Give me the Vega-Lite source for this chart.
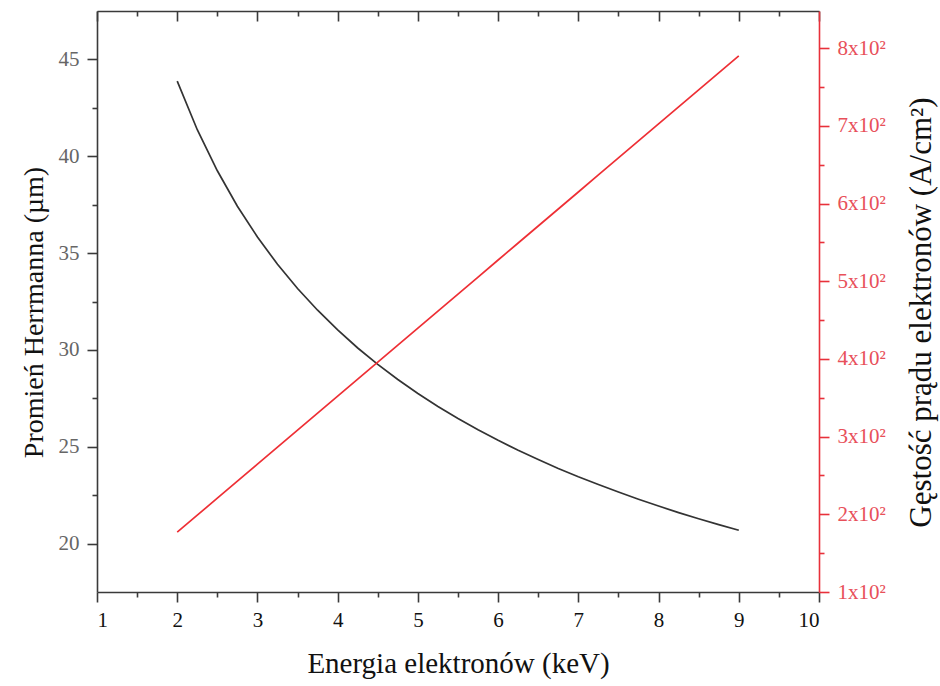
{
  "$schema": "https://vega.github.io/schema/vega-lite/v6.json",
  "width": 722,
  "height": 581,
  "autosize": {"type": "none"},
  "padding": {"left": 97, "top": 11, "right": 121, "bottom": 94},
  "background": "white",
  "view": {"stroke": null},
  "config": {
    "axis": {"grid": false, "labelFont": "Liberation Serif", "titleFont": "Liberation Serif", "labelFontSize": 21, "titleFontSize": 28, "titleFontWeight": "normal", "domainColor": "#3a3a3a", "tickColor": "#3a3a3a", "domainWidth": 1.6, "tickWidth": 1.6}
  },
  "data": {"values": [
    {"E": 2, "R": 43.88, "J": 177.0},
    {"E": 2.25, "R": 41.37, "J": 198.9},
    {"E": 2.5, "R": 39.25, "J": 220.8},
    {"E": 2.75, "R": 37.42, "J": 242.7},
    {"E": 3, "R": 35.83, "J": 264.6},
    {"E": 3.25, "R": 34.42, "J": 286.5},
    {"E": 3.5, "R": 33.17, "J": 308.4},
    {"E": 3.75, "R": 32.05, "J": 330.3},
    {"E": 4, "R": 31.03, "J": 352.2},
    {"E": 4.25, "R": 30.10, "J": 374.1},
    {"E": 4.5, "R": 29.25, "J": 396.0},
    {"E": 4.75, "R": 28.47, "J": 417.9},
    {"E": 5, "R": 27.75, "J": 439.8},
    {"E": 5.25, "R": 27.08, "J": 461.7},
    {"E": 5.5, "R": 26.46, "J": 483.6},
    {"E": 5.75, "R": 25.88, "J": 505.5},
    {"E": 6, "R": 25.33, "J": 527.4},
    {"E": 6.25, "R": 24.82, "J": 549.3},
    {"E": 6.5, "R": 24.34, "J": 571.2},
    {"E": 6.75, "R": 23.88, "J": 593.1},
    {"E": 7, "R": 23.45, "J": 615.0},
    {"E": 7.25, "R": 23.05, "J": 636.9},
    {"E": 7.5, "R": 22.66, "J": 658.8},
    {"E": 7.75, "R": 22.29, "J": 680.7},
    {"E": 8, "R": 21.94, "J": 702.6},
    {"E": 8.25, "R": 21.60, "J": 724.5},
    {"E": 8.5, "R": 21.28, "J": 746.4},
    {"E": 8.75, "R": 20.98, "J": 768.3},
    {"E": 9, "R": 20.69, "J": 790.2}
  ]},
  "resolve": {"scale": {"x": "independent", "y": "independent"}, "axis": {"x": "independent", "y": "independent"}},
  "layer": [
    {
      "mark": {"type": "line", "strokeOpacity": 0},
      "encoding": {
        "x": {"field": "E", "type": "quantitative", "scale": {"domain": [1, 10], "nice": false, "zero": false}, "axis": {"orient": "bottom", "values": [1.5,2.5,3.5,4.5,5.5,6.5,7.5,8.5,9.5], "tickSize": 5, "labels": false, "domain": false, "title": null}},
        "y": {"field": "R", "type": "quantitative", "scale": {"domain": [17.5, 47.5], "nice": false, "zero": false}, "axis": {"orient": "left", "values": [22.5,27.5,32.5,37.5,42.5], "tickSize": 5, "labels": false, "domain": false, "title": null}}
      }
    },
    {
      "mark": {"type": "line", "strokeOpacity": 0},
      "encoding": {
        "x": {"field": "E", "type": "quantitative", "scale": {"domain": [1, 10], "nice": false, "zero": false}, "axis": {"orient": "top", "values": [1,2,3,4,5,6,7,8,9,10], "tickSize": -10, "labels": false, "domain": true, "title": null}},
        "y": {"field": "R", "type": "quantitative", "scale": {"domain": [17.5, 47.5], "nice": false, "zero": false}, "axis": null}
      }
    },
    {
      "mark": {"type": "line", "strokeOpacity": 0},
      "encoding": {
        "x": {"field": "E", "type": "quantitative", "scale": {"domain": [1, 10], "nice": false, "zero": false}, "axis": {"orient": "top", "values": [1.5,2.5,3.5,4.5,5.5,6.5,7.5,8.5,9.5], "tickSize": -5, "labels": false, "domain": false, "title": null}},
        "y": {"field": "R", "type": "quantitative", "scale": {"domain": [17.5, 47.5], "nice": false, "zero": false}, "axis": null}
      }
    },
    {
      "mark": {"type": "line", "strokeOpacity": 0},
      "encoding": {
        "x": {"field": "E", "type": "quantitative", "scale": {"domain": [1, 10], "nice": false, "zero": false}, "axis": null},
        "y": {"field": "J", "type": "quantitative", "scale": {"domain": [100, 848], "nice": false, "zero": false}, "axis": {"orient": "right", "values": [150,250,350,450,550,650,750], "tickSize": 5, "labels": false, "domain": false, "tickColor": "#e8303a", "title": null}}
      }
    },
    {
      "mark": {"type": "line", "color": "#333333", "strokeWidth": 1.7},
      "encoding": {
        "x": {"field": "E", "type": "quantitative", "scale": {"domain": [1, 10], "nice": false, "zero": false},
          "axis": {"orient": "bottom", "values": [1,2,3,4,5,6,7,8,9,10], "format": "d", "tickSize": 10, "labelPadding": 7, "labelColor": "#111111", "title": "Energia elektronów (keV)", "titleFontSize": 29, "titleColor": "#111111", "titlePadding": 19}},
        "y": {"field": "R", "type": "quantitative", "scale": {"domain": [17.5, 47.5], "nice": false, "zero": false},
          "axis": {"orient": "left", "values": [20,25,30,35,40,45], "tickSize": 10, "labelPadding": 8, "labelColor": "#666666", "title": "Promień Herrmanna (µm)", "titleY": 301, "titleColor": "#111111", "titlePadding": 10}}
      }
    },
    {
      "mark": {"type": "line", "color": "#ee2f35", "strokeWidth": 1.7},
      "encoding": {
        "x": {"field": "E", "type": "quantitative", "scale": {"domain": [1, 10], "nice": false, "zero": false}, "axis": null},
        "y": {"field": "J", "type": "quantitative", "scale": {"domain": [100, 848], "nice": false, "zero": false},
          "axis": {"orient": "right", "values": [100,200,300,400,500,600,700,800], "labelExpr": "format(datum.value/100,'d') + 'x10²'", "tickSize": 10, "labelPadding": 8, "labelColor": "#e8505a", "domainColor": "#e8303a", "tickColor": "#e8303a", "title": "Gęstość prądu elektronów (A/cm²)", "titleFontSize": 31, "titleAngle": 270, "titleBaseline": "top", "titleY": 301, "titleColor": "#111111", "titlePadding": 21}}
      }
    }
  ]
}
